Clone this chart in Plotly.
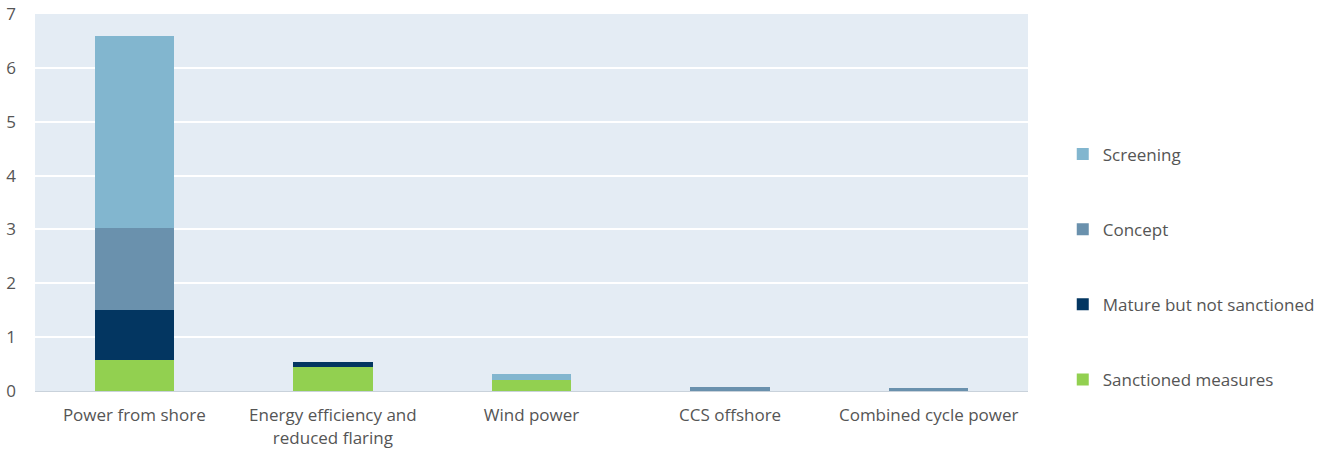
import plotly.graph_objects as go

categories = [
    "Power from shore",
    "Energy efficiency and<br>reduced flaring",
    "Wind power",
    "CCS offshore",
    "Combined cycle power",
]

sanctioned = [0.57, 0.45, 0.21, 0.0, 0.0]
mature = [0.94, 0.09, 0.0, 0.0, 0.0]
concept = [1.51, 0.0, 0.0, 0.08, 0.06]
screening = [3.58, 0.0, 0.10, 0.0, 0.0]

y_ticks = [0, 1, 2, 3, 4, 5, 6, 7]

# stacking order bottom -> top, with legend rank (top -> bottom in legend)
series = [
    ("Sanctioned measures", sanctioned, "#92D050", 4),
    ("Mature but not sanctioned", mature, "#033661", 3),
    ("Concept", concept, "#6A91AD", 2),
    ("Screening", screening, "#82B6CF", 1),
]

fig = go.Figure()
for name, vals, color, rank in series:
    fig.add_trace(go.Bar(
        x=categories, y=vals, name=name, legendgroup=name, legendrank=rank,
        marker=dict(color=color, line=dict(width=0)),
        width=0.4,
    ))

font_family = "'Open Sans', 'DejaVu Sans', sans-serif"
text_color = "#555555"

fig.update_layout(
    barmode="stack",
    width=1334, height=453,
    margin=dict(l=35, r=306, t=14, b=62),
    paper_bgcolor="white",
    plot_bgcolor="#E4ECF4",
    font=dict(family=font_family, size=17, color=text_color),
    showlegend=True,
    legend=dict(
        x=1.035, y=0.675, xanchor="left", yanchor="top",
        traceorder="grouped", tracegroupgap=50,
        font=dict(size=17, color=text_color),
        itemwidth=30,
    ),
    xaxis=dict(
        showgrid=False, showline=True, linecolor="#C9D2DB", linewidth=1,
        ticks="", tickfont=dict(size=17, color=text_color),
        automargin=False, ticklabelstandoff=9,
    ),
    yaxis=dict(
        range=[0, 7], tickvals=y_ticks, showgrid=True,
        gridcolor="white", gridwidth=2, zeroline=False,
        ticks="", tickfont=dict(size=17, color=text_color),
        ticklabelstandoff=18, automargin=False,
    ),
)

fig.write_html("out.html")
